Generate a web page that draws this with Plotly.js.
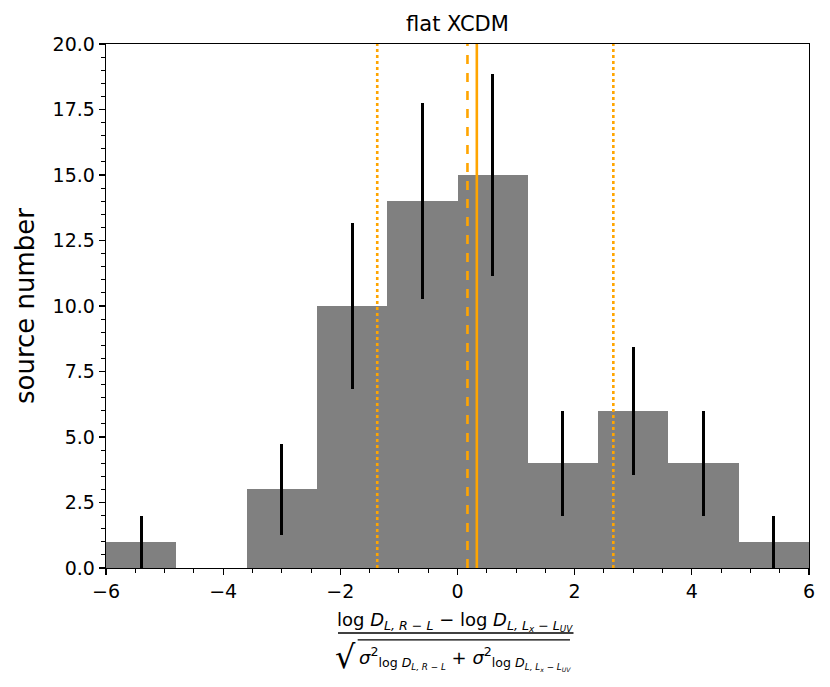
<!DOCTYPE html>
<html>
<head>
<meta charset="utf-8">
<script src="https://cdn.plot.ly/plotly-3.0.1.min.js"></script>
<style>body{margin:0;background:#fff}</style>
</head>
<body>
<div id="chart" style="width:830px;height:687px"></div>
<script>
// histogram bins (centres), counts and error bars
var binCentres = [-5.4, -4.2, -3.0, -1.8, -0.6, 0.6, 1.8, 3.0, 4.2, 5.4];
var counts = [1, 0, 3, 10, 14, 15, 4, 6, 4, 1];
var errors = [1, 0, 1.73, 3.16, 3.74, 3.87, 2, 2.45, 2, 1];
var binWidth = 1.2;

// vertical reference lines
var lineX = [-1.37, 0.17, 0.33, 2.66];
var lineDash = ['dot', 'dash', 'solid', 'dot'];

var font = 'DejaVu Sans, sans-serif';

var bars = {
    type: 'bar',
    x: binCentres,
    y: counts,
    width: binWidth,
    marker: {color: '#808080', line: {width: 0}},
    error_y: {type: 'data', array: errors, visible: true, color: 'black', thickness: 3, width: 0},
    hoverinfo: 'x+y'
};

var shapes = [];
for (var i = 0; i < lineX.length; i++) {
    shapes.push({
        type: 'line', xref: 'x', yref: 'paper',
        x0: lineX[i], x1: lineX[i], y0: 0, y1: 1,
        line: {color: '#FFA500', width: 2.6, dash: lineDash[i]},
        layer: 'above'
    });
}
// fraction bar for the x-axis label
shapes.push({type: 'line', xref: 'paper', yref: 'paper', x0: 0.33, x1: 0.665, y0: -0.124, y1: -0.124,
    line: {color: 'black', width: 1.5}});
// square-root overline
shapes.push({type: 'line', xref: 'paper', yref: 'paper', x0: 0.358, x1: 0.66, y0: -0.137, y1: -0.137,
    line: {color: 'black', width: 1.2}});

var numer = 'log <i>D</i><sub><i>L, R − L</i></sub> − log <i>D</i><sub><i>L, L</i><sub><i>x</i></sub><i> − L</i><sub><i>UV</i></sub></sub>';
var denom = '<i>σ</i><sup>2</sup><sub>log <i>D</i><sub><i>L, R − L</i></sub></sub> + <i>σ</i><sup>2</sup><sub>log <i>D</i><sub><i>L, L<sub>x</sub> − L<sub>UV</sub></i></sub></sub>';

var layout = {
    width: 830,
    height: 687,
    margin: {l: 106, r: 21, t: 44, b: 119},
    paper_bgcolor: 'white',
    plot_bgcolor: 'white',
    showlegend: false,
    bargap: 0,
    font: {family: font, size: 19, color: 'black'},
    title: {text: 'flat XCDM', font: {family: font, size: 21, color: 'black'}, x: 0.5, xref: 'paper', y: 0.966, yanchor: 'middle'},
    xaxis: {
        range: [-6, 6], dtick: 2, tick0: 0,
        showgrid: false, zeroline: false,
        showline: true, linecolor: 'black', linewidth: 1.3, mirror: true,
        ticks: 'outside', ticklen: 6, tickwidth: 1.3, tickcolor: 'black',
        minor: {dtick: 0.5, ticks: 'outside', ticklen: 3.5, tickwidth: 1, tickcolor: 'black', showgrid: false},
        tickfont: {family: font, size: 19}
    },
    yaxis: {
        range: [0, 20], dtick: 2.5, tick0: 0, tickformat: '.1f',
        showgrid: false, zeroline: false,
        showline: true, linecolor: 'black', linewidth: 1.3, mirror: true,
        ticks: 'outside', ticklen: 6, tickwidth: 1.3, tickcolor: 'black',
        minor: {dtick: 0.5, ticks: 'outside', ticklen: 3.5, tickwidth: 1, tickcolor: 'black', showgrid: false},
        tickfont: {family: font, size: 19},
        title: {text: 'source number', font: {family: font, size: 26}, standoff: 10}
    },
    shapes: shapes,
    annotations: [
        {xref: 'paper', yref: 'paper', x: 0.497, y: -0.103, text: numer, showarrow: false,
         font: {family: font, size: 18}, xanchor: 'center', yanchor: 'middle'},
        {xref: 'paper', yref: 'paper', x: 0.51, y: -0.172, text: denom, showarrow: false,
         font: {family: font, size: 18}, xanchor: 'center', yanchor: 'middle'},
        {xref: 'paper', yref: 'paper', x: 0.358, y: -0.17, text: '√', showarrow: false,
         font: {family: font, size: 32}, xanchor: 'right', yanchor: 'middle'}
    ]
};

Plotly.newPlot('chart', [bars], layout, {displayModeBar: false, staticPlot: true});
</script>
</body>
</html>
